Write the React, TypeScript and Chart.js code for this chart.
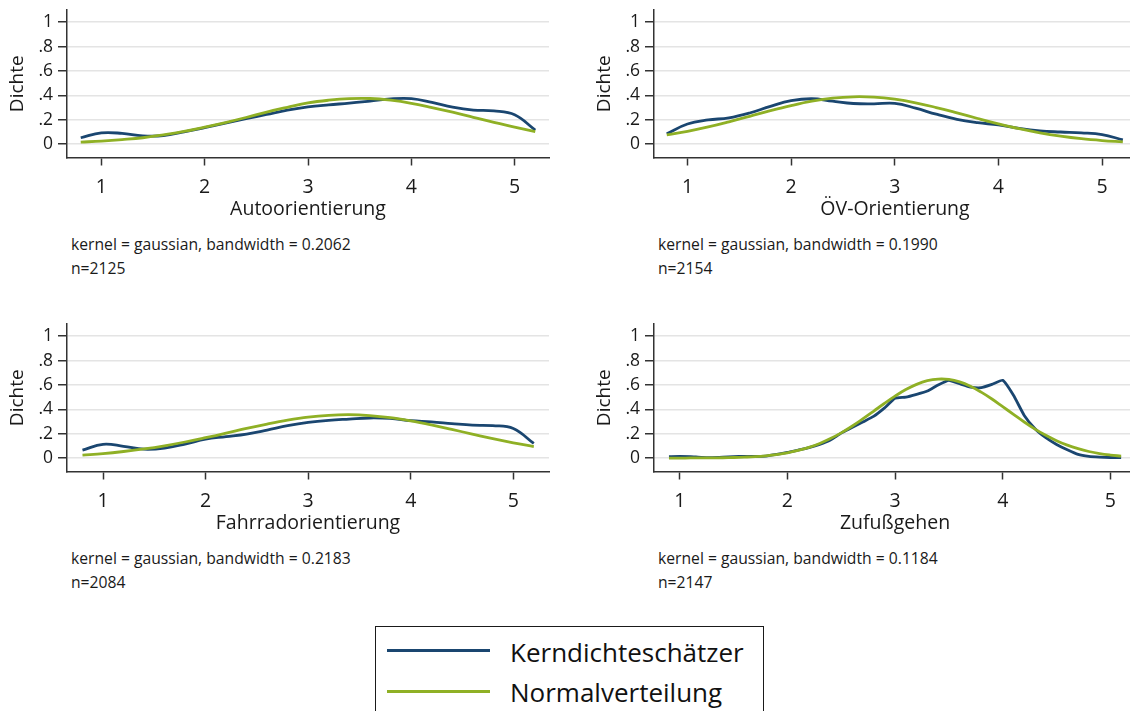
import React, { useEffect, useRef } from 'react';
import { Chart, registerables } from 'chart.js';

Chart.register(...registerables);

// ---------- data ----------
const xGrid = [0.8, 1.0, 1.2, 1.4, 1.6, 1.8, 2.0, 2.2, 2.4, 2.6, 2.8, 3.0, 3.2, 3.4, 3.6, 3.8, 4.0, 4.2, 4.4, 4.6, 4.8, 5.0, 5.2];
const xGridFine = [0.9, 1.0, 1.1, 1.2, 1.3, 1.4, 1.5, 1.6, 1.7, 1.8, 1.9, 2.0, 2.1, 2.2, 2.3, 2.4, 2.5, 2.6, 2.7, 2.8, 2.9, 3.0, 3.1, 3.2, 3.3, 3.4, 3.5, 3.6, 3.7, 3.8, 3.9, 4.0, 4.1, 4.2, 4.3, 4.4, 4.5, 4.6, 4.7, 4.8, 4.9, 5.0, 5.1];

const autoKernel = [0.052, 0.092, 0.088, 0.068, 0.070, 0.100, 0.135, 0.172, 0.208, 0.243, 0.278, 0.305, 0.322, 0.336, 0.353, 0.371, 0.373, 0.342, 0.303, 0.279, 0.272, 0.240, 0.115];
const autoNormal = [0.016, 0.025, 0.037, 0.052, 0.076, 0.104, 0.140, 0.177, 0.218, 0.263, 0.302, 0.338, 0.360, 0.373, 0.374, 0.360, 0.335, 0.300, 0.262, 0.220, 0.178, 0.140, 0.102];

const oevKernel = [0.085, 0.165, 0.198, 0.215, 0.255, 0.310, 0.356, 0.372, 0.352, 0.333, 0.330, 0.334, 0.295, 0.245, 0.203, 0.176, 0.157, 0.128, 0.108, 0.099, 0.092, 0.078, 0.035];
const oevNormal = [0.075, 0.105, 0.141, 0.183, 0.228, 0.274, 0.316, 0.352, 0.377, 0.388, 0.385, 0.368, 0.339, 0.300, 0.256, 0.210, 0.166, 0.126, 0.092, 0.065, 0.044, 0.029, 0.018];

const radKernel = [0.065, 0.113, 0.097, 0.073, 0.082, 0.115, 0.156, 0.176, 0.197, 0.230, 0.266, 0.293, 0.310, 0.320, 0.329, 0.325, 0.307, 0.297, 0.283, 0.270, 0.266, 0.243, 0.120];
const radNormal = [0.025, 0.037, 0.054, 0.075, 0.101, 0.132, 0.167, 0.204, 0.243, 0.279, 0.311, 0.336, 0.351, 0.356, 0.349, 0.332, 0.305, 0.272, 0.235, 0.197, 0.159, 0.125, 0.095];

const fussKernel = [0.012, 0.014, 0.012, 0.006, 0.004, 0.007, 0.012, 0.014, 0.013, 0.017, 0.030, 0.046, 0.066, 0.086, 0.112, 0.148, 0.205, 0.250, 0.296, 0.342, 0.410, 0.490, 0.500, 0.523, 0.550, 0.600, 0.638, 0.610, 0.583, 0.578, 0.605, 0.638, 0.515, 0.350, 0.241, 0.167, 0.112, 0.068, 0.030, 0.014, 0.008, 0.005, 0.003];
const fussNormal = [0.000, 0.000, 0.001, 0.001, 0.002, 0.003, 0.005, 0.008, 0.012, 0.019, 0.029, 0.043, 0.063, 0.088, 0.120, 0.160, 0.207, 0.261, 0.321, 0.384, 0.448, 0.508, 0.562, 0.605, 0.635, 0.648, 0.645, 0.625, 0.589, 0.541, 0.485, 0.422, 0.359, 0.296, 0.238, 0.187, 0.143, 0.106, 0.077, 0.054, 0.037, 0.025, 0.016];

const xTickValues = [1, 2, 3, 4, 5];
const yTickValues = [0, 0.2, 0.4, 0.6, 0.8, 1];
const yTickLabels = ['0', '.2', '.4', '.6', '.8', '1'];

const seriesLabels = ['Kerndichteschätzer', 'Normalverteilung'];
const yAxisTitle = 'Dichte';
const panelTitles = ['Autoorientierung', 'ÖV-Orientierung', 'Fahrradorientierung', 'Zufußgehen'];
const bandwidths = ['0.2062', '0.1990', '0.2183', '0.1184'];
const sampleSizes = ['2125', '2154', '2084', '2147'];

// ---------- styles ----------
const BLUE = '#1a4670';
const GREEN = '#8fb025';
const TEXT = '#1a1a1a';
const AXIS = '#333333';
const GRID = '#e4e4e4';
const FONT = "'Open Sans', sans-serif";

const CW = 560;
const CH = 225;

type PanelProps = {
  left: number;
  top: number;
  xMin: number;
  xMax: number;
  xs: number[];
  kernel: number[];
  normal: number[];
  title: string;
  kernelTension: number;
};

function Panel(props: PanelProps) {
  const ref = useRef<HTMLCanvasElement | null>(null);
  useEffect(() => {
    const canvas = ref.current;
    if (!canvas) return;
    const chart = new Chart(canvas, {
      type: 'line',
      data: {
        datasets: [
          {
            label: seriesLabels[1],
            data: props.xs.map((x, i) => ({ x, y: props.normal[i] })),
            borderColor: GREEN,
            borderWidth: 2.8,
            pointRadius: 0,
            tension: 0.4,
            fill: false,
            order: 0,
          },
          {
            label: seriesLabels[0],
            data: props.xs.map((x, i) => ({ x, y: props.kernel[i] })),
            borderColor: BLUE,
            borderWidth: 2.8,
            pointRadius: 0,
            tension: props.kernelTension,
            fill: false,
            order: 1,
          },
        ],
      },
      options: {
        animation: false,
        responsive: false,
        devicePixelRatio: 1,
        layout: { padding: { left: 0, top: 10, right: 11, bottom: 0 } },
        plugins: { legend: { display: false }, tooltip: { enabled: false } },
        scales: {
          x: {
            type: 'linear',
            min: props.xMin,
            max: props.xMax,
            afterBuildTicks: (s: any) => {
              s.ticks = xTickValues.map((value) => ({ value }));
            },
            afterFit: (s: any) => {
              s.height = 67.5;
              s.paddingLeft = 0;
              s.paddingRight = 0;
            },
            ticks: {
              font: { size: 19.5, family: FONT },
              color: TEXT,
              padding: 10,
              maxRotation: 0,
              autoSkip: false,
              callback: (v: any) => String(v),
            },
            grid: {
              drawOnChartArea: false,
              drawTicks: true,
              tickLength: 8,
              tickColor: AXIS,
              tickWidth: 1.5,
            },
            border: { display: true, color: AXIS, width: 1.5 },
            title: {
              display: true,
              text: props.title,
              font: { size: 19.5, family: FONT },
              color: TEXT,
              padding: { top: 0, bottom: 4 },
            },
          },
          y: {
            type: 'linear',
            min: -0.11,
            max: 1.1,
            afterBuildTicks: (s: any) => {
              s.ticks = yTickValues.map((value) => ({ value }));
            },
            afterFit: (s: any) => {
              s.width = 67;
              s.paddingTop = 0;
              s.paddingBottom = 0;
            },
            ticks: {
              font: { size: 17.5, family: FONT },
              color: TEXT,
              padding: 5,
              autoSkip: false,
              callback: (_v: any, i: number) => yTickLabels[i],
            },
            grid: {
              color: GRID,
              lineWidth: 1.5,
              drawTicks: true,
              tickLength: 9,
              tickColor: AXIS,
              tickWidth: 1.5,
            },
            border: { display: true, color: AXIS, width: 1.5 },
            title: {
              display: true,
              text: yAxisTitle,
              font: { size: 19, family: FONT },
              color: TEXT,
              padding: { top: 6, bottom: 0 },
            },
          },
        },
      },
    } as any);
    return () => chart.destroy();
  }, []);
  return (
    <canvas
      ref={ref}
      width={CW}
      height={CH}
      style={{ position: 'absolute', left: props.left, top: props.top, width: CW, height: CH }}
    />
  );
}

function Note(props: { left: number; top: number; bw: string; n: string }) {
  const s: React.CSSProperties = {
    position: 'absolute',
    left: props.left,
    fontSize: 15.7,
    lineHeight: '20px',
    whiteSpace: 'nowrap',
    color: TEXT,
  };
  return (
    <>
      <div style={{ ...s, top: props.top + 233.7 }}>{`kernel = gaussian, bandwidth = ${props.bw}`}</div>
      <div style={{ ...s, top: props.top + 258 }}>{`n=${props.n}`}</div>
    </>
  );
}

export default function App() {
  Chart.defaults.font.family = FONT;
  return (
    <div
      style={{
        position: 'absolute',
        left: 0,
        top: 0,
        width: 1130,
        height: 711,
        overflow: 'hidden',
        background: '#ffffff',
        fontFamily: FONT,
        color: TEXT,
      }}
    >
      <Panel left={0} top={0} xMin={0.667} xMax={5.333} xs={xGrid} kernel={autoKernel} normal={autoNormal} title={panelTitles[0]} kernelTension={0.4} />
      <Panel left={587} top={0} xMin={0.677} xMax={5.327} xs={xGrid} kernel={oevKernel} normal={oevNormal} title={panelTitles[1]} kernelTension={0.4} />
      <Panel left={0} top={314} xMin={0.649} xMax={5.348} xs={xGrid} kernel={radKernel} normal={radNormal} title={panelTitles[2]} kernelTension={0.4} />
      <Panel left={587} top={314} xMin={0.761} xMax={5.238} xs={xGridFine} kernel={fussKernel} normal={fussNormal} title={panelTitles[3]} kernelTension={0.15} />

      <Note left={71} top={0} bw={bandwidths[0]} n={sampleSizes[0]} />
      <Note left={658} top={0} bw={bandwidths[1]} n={sampleSizes[1]} />
      <Note left={71} top={314} bw={bandwidths[2]} n={sampleSizes[2]} />
      <Note left={658} top={314} bw={bandwidths[3]} n={sampleSizes[3]} />

      <div
        style={{
          position: 'absolute',
          left: 375,
          top: 626,
          width: 389,
          height: 120,
          border: '1.3px solid #1a1a1a',
          boxSizing: 'border-box',
        }}
      />
      <div style={{ position: 'absolute', left: 387, top: 648.5, width: 103, height: 3, background: BLUE }} />
      <div style={{ position: 'absolute', left: 387, top: 689.5, width: 103, height: 3, background: GREEN }} />
      <div style={{ position: 'absolute', left: 510, top: 636.5, fontSize: 26, lineHeight: '30px', whiteSpace: 'nowrap', color: '#111' }}>
        {seriesLabels[0]}
      </div>
      <div style={{ position: 'absolute', left: 510, top: 677, fontSize: 26, lineHeight: '30px', whiteSpace: 'nowrap', color: '#111' }}>
        {seriesLabels[1]}
      </div>
    </div>
  );
}
